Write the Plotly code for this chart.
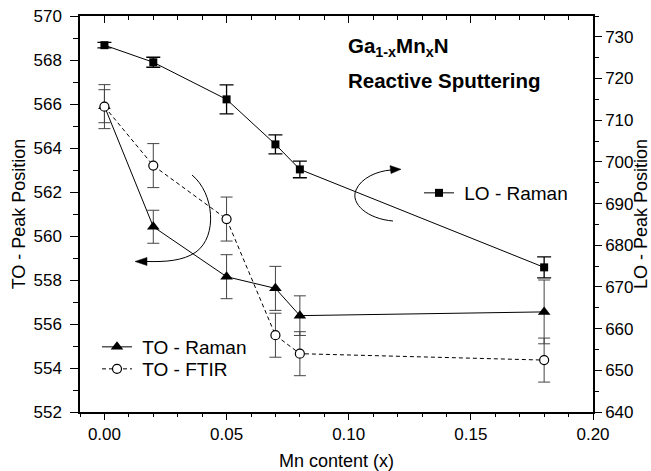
import plotly.graph_objects as go

# ---- data ----
mn_content = [0.00, 0.02, 0.05, 0.07, 0.08, 0.18]
lo_raman = [728.0, 723.9, 715.0, 704.2, 698.2, 674.7]
lo_raman_err = [0.65, 1.2, 3.5, 2.3, 2.0, 2.5]
to_raman = [565.9, 560.42, 558.15, 557.62, 556.38, 556.55]
to_raman_err = [0.75, 0.75, 1.0, 1.0, 0.9, 1.45]
to_ftir = [565.88, 563.2, 560.77, 555.49, 554.65, 554.36]
to_ftir_err = [1.0, 1.0, 1.0, 1.0, 1.0, 1.0]

FONT = "Liberation Sans, Arial, sans-serif"
NB = "\u00a0"

fig = go.Figure()
fig.add_trace(go.Scatter(
    x=mn_content, y=to_raman, mode="lines+markers", name=NB + "TO - Raman",
    line=dict(color="black", width=1),
    marker=dict(symbol="triangle-up", size=11, color="black", line=dict(width=0)),
    error_y=dict(type="data", array=to_raman_err, color="#444", thickness=1, width=6),
    legend="legend"))
fig.add_trace(go.Scatter(
    x=mn_content, y=to_ftir, mode="lines+markers", name=NB + "TO - FTIR",
    line=dict(color="black", width=1, dash="4px,3px"),
    marker=dict(symbol="circle", size=9, color="white", line=dict(color="black", width=1.2)),
    error_y=dict(type="data", array=to_ftir_err, color="#444", thickness=1, width=6),
    legend="legend3"))
fig.add_trace(go.Scatter(
    x=mn_content, y=lo_raman, mode="lines+markers", name=NB + "LO - Raman", yaxis="y2",
    line=dict(color="black", width=1),
    marker=dict(symbol="square", size=8, color="black"),
    error_y=dict(type="data", array=lo_raman_err, color="black", thickness=1.3, width=7),
    legend="legend2"))
# helper trace so the top mirror axis is drawn
fig.add_trace(go.Scatter(x=[None], y=[None], xaxis="x2", showlegend=False, hoverinfo="skip"))

L, R, T, B = 80, 58, 16, 59
W, H = 651, 471
PW, PH = W - L - R, H - T - B


def P(px, py):
    return f"{(px - L) / PW:.4f},{(H - B - py) / PH:.4f}"


def px_x(px):
    return (px - L) / PW


def px_y(py):
    return (H - B - py) / PH


left_arc = (f"M{P(192,175)} C{P(214,193)} {P(218,236)} {P(196,252)} "
            f"C{P(183,261)} {P(165,262)} {P(146,261.5)}")
left_head = f"M{P(135,261.5)} L{P(147,257.5)} L{P(147,265.5)} Z"
right_arc = (f"M{P(393,221)} C{P(368,219)} {P(350,204)} {P(356,190)} "
             f"C{P(361,178)} {P(377,171)} {P(391,170)}")
right_head = f"M{P(401,169.3)} L{P(390,165.6)} L{P(391,173.6)} Z"

shapes = [
    dict(type="path", xref="paper", yref="paper", path=left_arc, line=dict(color="black", width=1)),
    dict(type="path", xref="paper", yref="paper", path=left_head, fillcolor="black", line=dict(color="black", width=0.5)),
    dict(type="path", xref="paper", yref="paper", path=right_arc, line=dict(color="black", width=1)),
    dict(type="path", xref="paper", yref="paper", path=right_head, fillcolor="black", line=dict(color="black", width=0.5)),
]

axis_common = dict(showline=True, linecolor="black", linewidth=1.5, showgrid=False, zeroline=False,
                   automargin=False,
                   tickcolor="black", tickwidth=1.3, tickfont=dict(size=17, color="black", family=FONT))

legend_common = dict(xanchor="left", yanchor="middle", bgcolor="rgba(0,0,0,0)", font=dict(size=19))

fig.update_layout(
    width=W, height=H, margin=dict(l=L, r=R, t=T, b=B, autoexpand=False),
    paper_bgcolor="white", plot_bgcolor="white",
    font=dict(family=FONT, color="black"),
    xaxis=dict(range=[-0.01, 0.20], tick0=0, dtick=0.05, tickformat=".2f", ticks="outside", ticklen=6,
               minor=dict(ticks="outside", tick0=0, dtick=0.01, ticklen=3.5, tickwidth=1.2, tickcolor="black"),
               title=dict(text="Mn content (x)", font=dict(size=18), standoff=12), **axis_common),
    xaxis2=dict(range=[-0.01, 0.20], overlaying="x", side="top", anchor="y", tick0=0, dtick=0.05,
                ticks="inside", ticklen=7, showticklabels=False,
                minor=dict(ticks="inside", tick0=0, dtick=0.01, ticklen=4, tickwidth=1.2, tickcolor="black"),
                **axis_common),
    yaxis=dict(range=[552, 570], tick0=552, dtick=2, ticks="outside", ticklen=8, ticklabelstandoff=5,
               minor=dict(ticks="outside", tick0=552, dtick=1, ticklen=5, tickwidth=1.2, tickcolor="black"),
               title=dict(text="TO - Peak Position", font=dict(size=18), standoff=3), **axis_common),
    yaxis2=dict(range=[640, 735], overlaying="y", side="right", tick0=640, dtick=10, ticks="outside", ticklen=7,
                minor=dict(ticks="outside", tick0=640, dtick=5, ticklen=4, tickwidth=1.2, tickcolor="black"),
                title=dict(text="LO - Peak Position", font=dict(size=18), standoff=8), **axis_common),
    legend=dict(x=px_x(97), y=px_y(347), **legend_common),
    legend3=dict(x=px_x(97), y=px_y(369), **legend_common),
    legend2=dict(x=px_x(419), y=px_y(193), **legend_common),
    annotations=[
        dict(text="<b>Ga<sub>1-x</sub>Mn<sub>x</sub>N</b>", xref="paper", yref="paper",
             x=px_x(346), y=px_y(47), xanchor="left", yanchor="middle",
             showarrow=False, font=dict(size=20.5)),
        dict(text="<b>Reactive Sputtering</b>", xref="paper", yref="paper",
             x=px_x(346), y=px_y(80), xanchor="left", yanchor="middle",
             showarrow=False, font=dict(size=20.5)),
    ],
    shapes=shapes,
    showlegend=True,
)

fig.write_html("out.html", config={"displayModeBar": False},
               post_script="document.body.style.margin='0';")
